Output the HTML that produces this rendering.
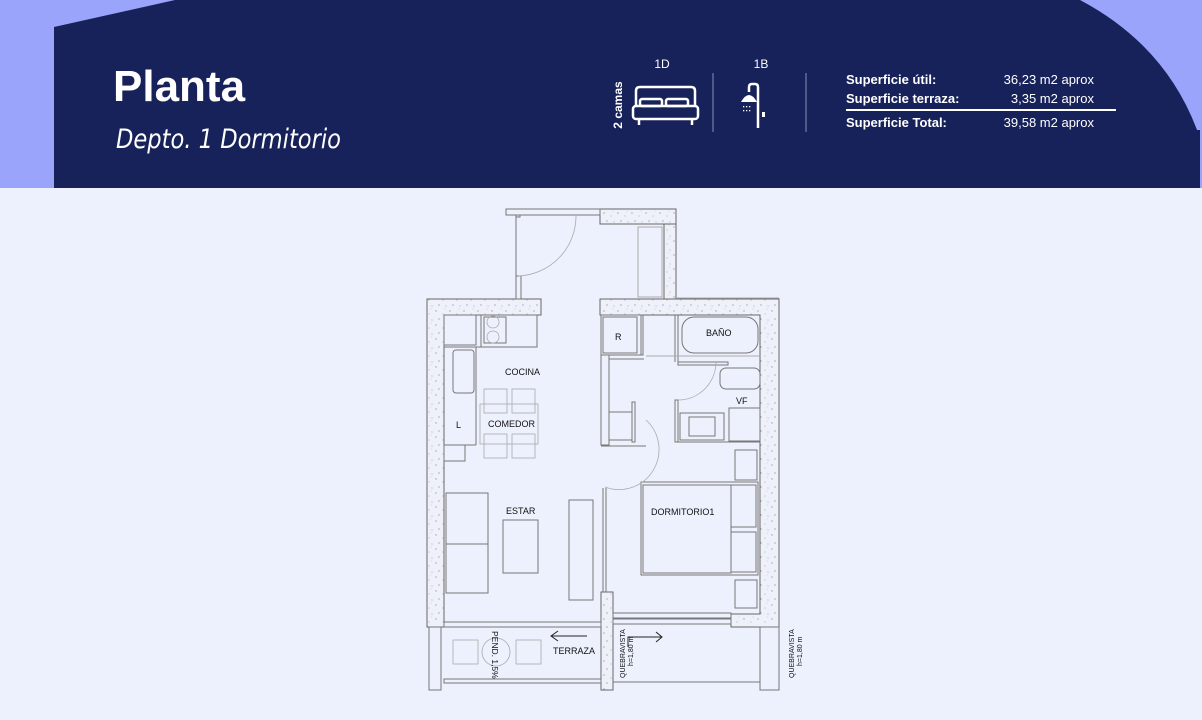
<!DOCTYPE html>
<html><head><meta charset="utf-8"><style>
html,body{margin:0;padding:0;width:1202px;height:720px;overflow:hidden;background:#edf1fd;font-family:"Liberation Sans",sans-serif}
svg{position:absolute;left:0;top:0}
</style></head><body>
<svg width="1202" height="720" viewBox="0 0 1202 720" xmlns="http://www.w3.org/2000/svg">
<defs>
<pattern id="st" width="14" height="14" patternUnits="userSpaceOnUse">
<rect width="14" height="14" fill="#eef1fa"/>
<circle cx="2" cy="3" r="0.6" fill="#888"/><circle cx="9" cy="6" r="0.5" fill="#999"/>
<circle cx="5" cy="11" r="0.6" fill="#888"/><circle cx="12" cy="12" r="0.5" fill="#999"/>
<circle cx="11" cy="1" r="0.4" fill="#aaa"/>
</pattern>
</defs>
<!-- header -->
<rect x="0" y="0" width="1202" height="188" fill="#9aa4fb"/>
<path d="M54,27 L175,0 L1080,0 Q1165,45 1197,130 L1200,130 L1200,188 L54,188 Z" fill="#162259"/>
<text x="113" y="101" font-size="44" font-weight="bold" fill="#fff">Planta</text>
<text x="116" y="148" font-size="27" font-style="italic" fill="#fff" font-family="DejaVu Sans, sans-serif" textLength="225" lengthAdjust="spacingAndGlyphs">Depto. 1 Dormitorio</text>
<text x="662" y="68" font-size="12" fill="#fff" text-anchor="middle">1D</text>
<text x="761" y="68" font-size="12" fill="#fff" text-anchor="middle">1B</text>
<text transform="translate(622,105) rotate(-90)" font-size="12" font-weight="bold" fill="#fff" text-anchor="middle">2 camas</text>
<g fill="none" stroke="#fff" stroke-width="2.5" stroke-linejoin="round">
<path d="M636,107 L636,91 Q636,87 640,87 L691,87 Q695,87 695,91 L695,107"/>
<rect x="633" y="106" width="65" height="13" rx="3"/>
<rect x="640" y="99" width="22" height="7" rx="2"/><rect x="666" y="99" width="22" height="7" rx="2"/>
<path d="M639,119 L639,125 M692,119 L692,125"/>
<path d="M758,128 L758,87 Q758,84 755,84 L752,84 Q749,84 749,87 L749,92"/>
</g>
<path d="M741,102 Q749,88 757,102 Z" fill="#fff"/>
<g fill="#fff"><rect x="743" y="106" width="1.3" height="1.3"/><rect x="746" y="106" width="1.3" height="1.3"/><rect x="749" y="106" width="1.3" height="1.3"/><rect x="743" y="110" width="1.3" height="1.3"/><rect x="746" y="110" width="1.3" height="1.3"/><rect x="749" y="110" width="1.3" height="1.3"/><rect x="762" y="112" width="3" height="5"/></g>
<line x1="713" y1="73" x2="713" y2="132" stroke="#8890b0" stroke-width="1"/>
<line x1="806" y1="73" x2="806" y2="132" stroke="#8890b0" stroke-width="1"/>
<g font-size="13" fill="#fff">
<text x="846" y="84" font-weight="bold">Superficie útil:</text>
<text x="846" y="103" font-weight="bold">Superficie terraza:</text>
<text x="846" y="127" font-weight="bold">Superficie Total:</text>
<text x="1094" y="84" text-anchor="end">36,23 m2 aprox</text>
<text x="1094" y="103" text-anchor="end">3,35 m2 aprox</text>
<text x="1094" y="127" text-anchor="end">39,58 m2 aprox</text>
</g>
<rect x="846" y="109" width="270" height="2" fill="#fff"/>

<!-- plan -->
<g stroke="#666" stroke-width="1" fill="url(#st)">
<rect x="600" y="209" width="76" height="15"/>
<rect x="664" y="224" width="12" height="75"/>
<path d="M427,299 L541,299 L541,315 L444,315 L444,627 L427,627 Z"/>
<path d="M600,299 L779,299 L779,627 L731,627 L731,614 L760,614 L760,315 L600,315 Z"/>
<rect x="601" y="592" width="12" height="98"/>
</g>
<g fill="none" stroke="#777" stroke-width="1">
<rect x="506" y="209" width="94" height="6"/>
<rect x="516" y="215" width="4" height="2"/>
<line x1="516" y1="217" x2="516" y2="276"/>
<rect x="516" y="276" width="5" height="23"/>
<rect x="638" y="227" width="24" height="70" stroke="#aaa"/>
<line x1="676" y1="298" x2="779" y2="298" stroke="#aaa"/>
<rect x="444" y="622" width="157" height="5"/>
<rect x="613" y="613" width="118" height="5"/>
<rect x="613" y="619" width="118" height="5"/>
<rect x="429" y="627" width="12" height="63"/>
<rect x="760" y="627" width="19" height="63"/>
<rect x="444" y="679" width="157" height="4"/>
<line x1="613" y1="682" x2="760" y2="682"/>
<rect x="444" y="315" width="32" height="30"/>
<rect x="481" y="315" width="56" height="32"/>
<rect x="484" y="317" width="22" height="26"/>
<line x1="444" y1="347" x2="537" y2="347"/>
<rect x="453" y="350" width="21" height="43" rx="3"/>
<line x1="476" y1="347" x2="476" y2="445"/>
<line x1="444" y1="445" x2="476" y2="445"/>
<rect x="444" y="445" width="21" height="16"/>
<rect x="446" y="493" width="42" height="100"/>
<line x1="446" y1="544" x2="488" y2="544"/>
<rect x="503" y="520" width="35" height="53"/>
<rect x="569" y="500" width="24" height="100"/>
<line x1="603" y1="488" x2="603" y2="592"/>
<line x1="606" y1="488" x2="606" y2="592"/>
<rect x="601" y="315" width="42" height="40"/>
<rect x="603" y="317" width="34" height="36"/>
<line x1="641" y1="315" x2="641" y2="355"/>
<rect x="601" y="355" width="8" height="90"/>
<line x1="609" y1="359" x2="644" y2="359"/>
<line x1="609" y1="412" x2="632" y2="412"/>
<line x1="609" y1="440" x2="632" y2="440"/>
<rect x="632" y="402" width="3" height="40"/>
<line x1="601" y1="446" x2="646" y2="446"/>
<line x1="675" y1="315" x2="675" y2="362"/>
<line x1="678" y1="315" x2="678" y2="362"/>
<rect x="682" y="317" width="76" height="36" rx="12"/>
<line x1="646" y1="356" x2="760" y2="356" stroke="#aaa"/>
<rect x="678" y="362" width="50" height="3"/>
<rect x="720" y="368" width="40" height="21" rx="6"/>
<rect x="675" y="400" width="3" height="42"/>
<rect x="680" y="413" width="44" height="27"/>
<rect x="689" y="417" width="26" height="19"/>
<rect x="729" y="408" width="31" height="33"/>
<line x1="675" y1="442" x2="760" y2="442"/>
<rect x="735" y="450" width="22" height="30"/>
<rect x="735" y="580" width="22" height="28"/>
<rect x="641" y="482" width="117" height="93"/>
<rect x="643" y="485" width="88" height="88"/>
<rect x="731" y="485" width="25" height="42"/>
<rect x="731" y="532" width="25" height="40"/>
</g>
<g fill="none" stroke="#aaa" stroke-width="0.8">
<path d="M576,215 A60,60 0 0 1 518,276"/>
<path d="M646,420 A40,40 0 0 1 605,487"/>
<path d="M716,362 A38,38 0 0 1 678,400"/>
<rect x="484" y="389" width="23" height="24"/><rect x="512" y="389" width="23" height="24"/>
<rect x="484" y="434" width="23" height="24"/><rect x="512" y="434" width="23" height="24"/>
<rect x="480" y="404" width="58" height="40"/>
<rect x="453" y="640" width="25" height="24"/><rect x="516" y="640" width="25" height="24"/>
<circle cx="496" cy="652" r="14"/>
<circle cx="493" cy="322" r="6"/><circle cx="493" cy="337" r="6"/>
</g>
<g stroke="#222" stroke-width="1" fill="none">
<path d="M551,636 L587,636 M558,631 L551,636 L558,641"/>
<path d="M628,647 L628,637 L662,637 M656,632 L662,637 L656,642"/>
</g>
<g font-size="9" fill="#111">
<text x="505" y="375">COCINA</text>
<text x="488" y="427">COMEDOR</text>
<text x="456" y="428">L</text>
<text x="506" y="514">ESTAR</text>
<text x="615" y="340">R</text>
<text x="706" y="336">BAÑO</text>
<text x="736" y="404">VF</text>
<text x="651" y="515">DORMITORIO1</text>
<text x="553" y="654">TERRAZA</text>
<text transform="translate(492,631) rotate(90)" font-size="8.5">PEND. 1,5%</text>
<text transform="translate(625,678) rotate(-90)" font-size="7">QUEBRAVISTA</text>
<text transform="translate(633,666) rotate(-90)" font-size="7">h=1,80 m</text>
<text transform="translate(794,678) rotate(-90)" font-size="7">QUEBRAVISTA</text>
<text transform="translate(802,666) rotate(-90)" font-size="7">h=1,80 m</text>
</g>
</svg>
</body></html>
